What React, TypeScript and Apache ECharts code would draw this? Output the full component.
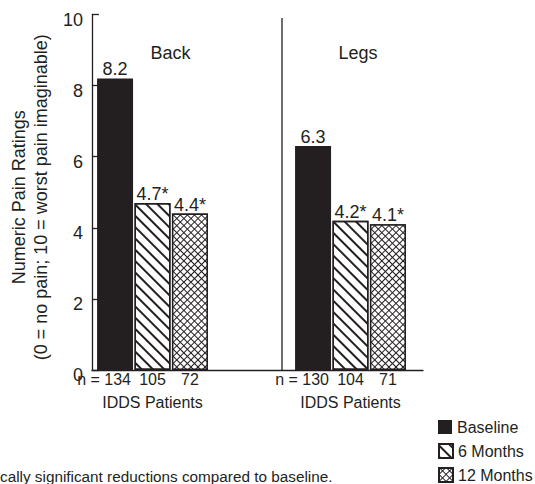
import React, { useEffect, useRef } from "react";
import * as echarts from "echarts";

// ---- data ----
const regions = ["Back", "Legs"];
const seriesNames = ["Baseline", "6 Months", "12 Months"];
const baseline = [8.2, 6.3];
const sixMonths = [4.7, 4.2];
const twelveMonths = [4.4, 4.1];
const baselineSig = [false, false];
const sixMonthsSig = [true, true];
const twelveMonthsSig = [true, true];
const nBaseline = [134, 130];
const nSixMonths = [105, 104];
const nTwelveMonths = [72, 71];
const yMin = 0;
const yMax = 10;
const yStep = 2;
const xAxisTitle = "IDDS Patients";
const yTitleLines = ["Numeric Pain Ratings", "(0 = no pain; 10 = worst pain imaginable)"];
const footnote = "cally significant reductions compared to baseline.";

const INK = "#231f20";
const FONT = "'Liberation Sans', Arial, Helvetica, sans-serif";

export default function App() {
  const ref = useRef<HTMLDivElement>(null);

  useEffect(() => {
    if (!ref.current) return;
    const chart = echarts.init(ref.current, undefined, { renderer: "svg" });

    const values = [baseline, sixMonths, twelveMonths];
    const sigs = [baselineSig, sixMonthsSig, twelveMonthsSig];
    const ns = [nBaseline, nSixMonths, nTwelveMonths];
    const itemStyles: any[] = [
      { color: INK, borderColor: INK, borderWidth: 0 },
      {
        color: "#ffffff",
        borderColor: INK,
        borderWidth: 1.5,
        decal: {
          symbol: "rect",
          symbolSize: 1,
          color: INK,
          dashArrayX: [1, 0],
          dashArrayY: [1.2, 5.9],
          rotation: Math.PI / 4,
        },
      },
      {
        color: INK,
        borderColor: INK,
        borderWidth: 1.5,
        decal: {
          symbol: "rect",
          symbolSize: 1,
          color: "#ffffff",
          dashArrayX: [3.2, 1],
          dashArrayY: [3.2, 1],
          rotation: Math.PI / 4,
        },
      },
    ];

    const series: any[] = [];
    for (let i = 0; i < 3; i++) {
      series.push({
        type: "bar",
        name: "n" + i,
        stack: "s" + i,
        xAxisIndex: 1,
        yAxisIndex: 1,
        data: values[i].map(() => 0),
        barWidth: 36,
        barGap: "4%",
        silent: true,
        itemStyle: { color: "transparent" },
        label: {
          show: true,
          position: "bottom",
          distance: 1,
          fontSize: 16,
          color: INK,
          fontFamily: FONT,
          offset: i === 0 ? [-11, 0] : [0, 0],
          formatter: (p: any) => (i === 0 ? "n = " : "") + ns[i][p.dataIndex],
        },
      });
      series.push({
        type: "bar",
        name: seriesNames[i],
        stack: "s" + i,
        xAxisIndex: 1,
        yAxisIndex: 1,
        data: values[i],
        barWidth: 36,
        barGap: "4%",
        itemStyle: itemStyles[i],
        label: {
          show: true,
          position: "top",
          distance: 0,
          fontSize: 18,
          color: INK,
          fontFamily: FONT,
          formatter: (p: any) =>
            Number(p.value).toFixed(1) + (sigs[i][p.dataIndex] ? "*" : ""),
        },
      });
    }

    const legendTops = [419, 443, 467];
    const legends = seriesNames.map((name, i) => ({
      data: [name],
      orient: "vertical",
      left: 438,
      top: legendTops[i],
      padding: 0,
      itemWidth: 14,
      itemHeight: 14,
      icon: "rect",
      textStyle: { fontSize: 16, color: INK, fontFamily: FONT },
    }));

    chart.setOption({
      animation: false,
      textStyle: { fontFamily: FONT, color: INK },
      legend: legends,
      grid: [
        { left: 80, top: 14.5, width: 343, height: 355.5 },
        { left: 53.5, top: 14.5, width: 396, height: 355.5 },
      ],
      xAxis: [
        {
          type: "category",
          gridIndex: 0,
          data: [""],
          axisLine: { show: true, lineStyle: { color: INK, width: 1.3 } },
          axisTick: { show: false },
          axisLabel: { show: false },
          splitLine: { show: false },
        },
        {
          type: "category",
          gridIndex: 1,
          data: regions,
          axisLine: { show: false },
          axisTick: { show: false },
          axisLabel: {
            fontSize: 16,
            color: INK,
            fontFamily: FONT,
            margin: 24,
            formatter: () => xAxisTitle,
          },
        },
      ],
      yAxis: [
        {
          type: "value",
          gridIndex: 0,
          min: yMin,
          max: yMax,
          interval: yStep,
          axisLine: { show: true, lineStyle: { color: INK, width: 1.3 } },
          axisTick: { show: true, inside: true, length: 7, lineStyle: { color: INK, width: 1.3 } },
          axisLabel: {
            fontSize: 18,
            color: INK,
            fontFamily: FONT,
            margin: 9,
            verticalAlign: "top",
            lineHeight: 10,
          },
          splitLine: { show: false },
          name: yTitleLines.join("\n"),
          nameLocation: "middle",
          nameGap: 29,
          nameTextStyle: { fontSize: 18, lineHeight: 22, color: INK, fontFamily: FONT, padding: [0, 10, 0, 0] },
        },
        {
          type: "value",
          gridIndex: 1,
          min: yMin,
          max: yMax,
          interval: yStep,
          show: false,
        },
      ],
      graphic: [
        {
          type: "text",
          x: 170.5,
          y: 53,
          style: { text: regions[0], fontSize: 18, fill: INK, fontFamily: FONT, align: "center", verticalAlign: "middle" },
        },
        {
          type: "text",
          x: 358,
          y: 53,
          style: { text: regions[1], fontSize: 18, fill: INK, fontFamily: FONT, align: "center", verticalAlign: "middle" },
        },
        {
          type: "line",
          shape: { x1: 282, y1: 18, x2: 282, y2: 370 },
          style: { stroke: INK, lineWidth: 1.3 },
        },
        {
          type: "text",
          x: 0,
          y: 476,
          style: { text: footnote, fontSize: 15.3, fill: INK, fontFamily: FONT, align: "left", verticalAlign: "middle" },
        },
      ],
      series,
    });

    return () => chart.dispose();
  }, []);

  return (
    <div
      ref={ref}
      style={{ position: "fixed", left: 0, top: 0, width: 535, height: 484, background: "#ffffff" }}
    />
  );
}
